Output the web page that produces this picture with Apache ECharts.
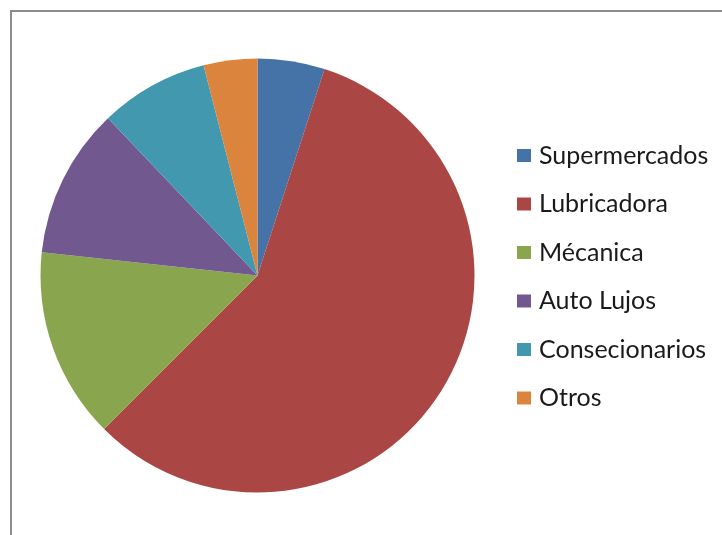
<!DOCTYPE html>
<html>
<head>
<meta charset="utf-8">
<script src="https://cdn.jsdelivr.net/npm/echarts@6/dist/echarts.min.js"></script>
<style>html,body{margin:0;padding:0;background:#fff}#c{width:722px;height:535px}</style>
</head>
<body>
<div id="c"></div>
<script>
var categories = ['Supermercados', 'Lubricadora', 'Mécanica', 'Auto Lujos', 'Consecionarios', 'Otros'];
var values = [5.0, 57.5, 14.2, 11.2, 8.1, 4.0];
var colors = ['#4572A7', '#AA4643', '#89A54E', '#71588F', '#4198AF', '#DB843D'];

var chart = echarts.init(document.getElementById('c'), null, {renderer: 'canvas'});
chart.setOption({
  animation: false,
  color: colors,
  graphic: [{
    type: 'rect',
    shape: {x: 11, y: 11, width: 800, height: 600},
    style: {fill: null, stroke: '#8c8c8c', lineWidth: 2},
    silent: true
  }],
  legend: {
    orient: 'vertical',
    left: 517,
    top: 143,
    padding: 0,
    itemWidth: 14,
    itemHeight: 13,
    itemGap: 23.5,
    icon: 'rect',
    data: categories,
    textStyle: {fontFamily: 'Lato', fontSize: 25, color: '#1a1a1a', padding: [0, 0, 0, 3]}
  },
  series: [{
    type: 'pie',
    center: [257.5, 275.5],
    radius: 217,
    startAngle: 90,
    clockwise: true,
    label: {show: false},
    labelLine: {show: false},
    itemStyle: {borderWidth: 0},
    emphasis: {disabled: true},
    data: categories.map(function (c, i) { return {name: c, value: values[i]}; })
  }]
});
</script>
</body>
</html>
